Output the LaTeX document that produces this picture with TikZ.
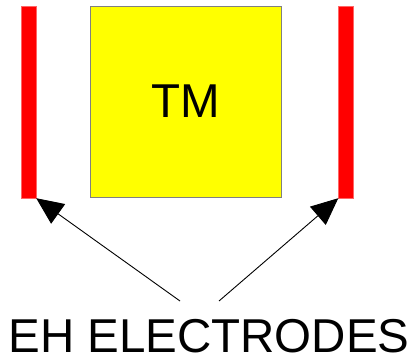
\documentclass[tikz,border=0pt]{standalone}
\usepackage{fontspec}
\setmainfont{Liberation Sans}
\usetikzlibrary{arrows.meta}
\definecolor{tmyellow}{RGB}{255,255,0}
\definecolor{elred}{RGB}{255,0,0}
\begin{document}
\begin{tikzpicture}[x=1pt,y=-1pt,
  electrode/.style={fill=elred,draw=elred!60,line width=0.4pt},
  tmbox/.style={fill=tmyellow,draw=gray,line width=1pt},
  bigtext/.style={font=\fontsize{47.5}{50}\selectfont,inner sep=0pt,anchor=base},
  pointer/.style={line width=0.9pt,-{Triangle[length=27pt,width=24pt]}}]
\useasboundingbox (0,0) rectangle (414,358);
\fill[white] (0,0) rectangle (414,358);
\node[electrode,minimum width=15pt,minimum height=192pt,inner sep=0pt] (L) at (28.5,102) {};
\node[electrode,minimum width=15pt,minimum height=192pt,inner sep=0pt] (R) at (346,102) {};
\node[tmbox,minimum width=191pt,minimum height=191pt,inner sep=0pt] (TM) at (186,102) {};
\node[bigtext] (tmlabel) at (185.5,118) {TM};
\node[bigtext] (eh) at (209,352.5) {EH ELECTRODES};
\coordinate (s1) at (180,301);
\coordinate (s2) at (219,301);
\draw[pointer] (s1) -- (L.south east);
\draw[pointer] (s2) -- (R.south west);
\end{tikzpicture}
\end{document}
